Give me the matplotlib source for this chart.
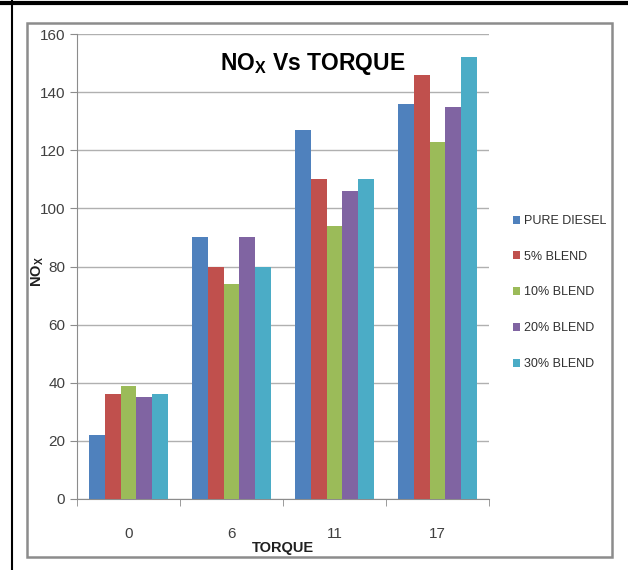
import matplotlib.pyplot as plt
import numpy as np
from matplotlib.patches import Rectangle
from matplotlib.lines import Line2D

# torque levels and NOx readings per fuel
torque = ['0', '6', '11', '17']
fuels = ['PURE DIESEL', '5% BLEND', '10% BLEND', '20% BLEND', '30% BLEND']
pure_diesel = [22, 90, 127, 136]
blend_5 = [36, 80, 110, 146]
blend_10 = [39, 74, 94, 123]
blend_20 = [35, 90, 106, 135]
blend_30 = [36, 80, 110, 152]
colors = ['#4F81BD', '#C0504D', '#9BBB59', '#8064A2', '#4BACC6']

plt.rcParams['font.family'] = ['Liberation Sans', 'DejaVu Sans']

fig = plt.figure(figsize=(6.28, 5.70), dpi=100)

# outer frame lines and inner grey chart border
fig.add_artist(Line2D([0, 1], [1 - 3 / 570, 1 - 3 / 570], color='black', lw=3,
                      transform=fig.transFigure))
fig.add_artist(Line2D([12 / 628, 12 / 628], [0, 1], color='black', lw=1.5,
                      transform=fig.transFigure))
fig.add_artist(Rectangle((27 / 628, 1 - 557 / 570), (612 - 27) / 628, (557 - 23) / 570,
                         fill=False, edgecolor='#8c8c8c', lw=1.8,
                         transform=fig.transFigure))

ax = fig.add_axes([77 / 628, 1 - 499 / 570, 412 / 628, 465 / 570])

series = [pure_diesel, blend_5, blend_10, blend_20, blend_30]
x = np.arange(len(torque))
width = 0.155
for i, (vals, name, c) in enumerate(zip(series, fuels, colors)):
    ax.bar(x + (i - 2) * width, vals, width, color=c, label=name, zorder=3)

ax.set_xlim(-0.5, len(torque) - 0.5)
ax.set_ylim(0, 160)
ax.set_yticks(range(0, 161, 20))
ax.set_xticks(x)
ax.set_xticklabels(torque)
ax.set_xticks(np.arange(-0.5, len(torque), 1), minor=True)
ax.tick_params(axis='x', which='major', length=0, pad=20, labelsize=11, colors='#404040')
ax.tick_params(axis='x', which='minor', length=5, color='#8c8c8c')
ax.tick_params(axis='y', length=5, color='#8c8c8c', labelsize=11, colors='#404040')
ax.grid(axis='y', color='#b0b0b0', lw=1, zorder=0)
for s in ['top', 'right']:
    ax.spines[s].set_visible(False)
for s in ['left', 'bottom']:
    ax.spines[s].set_color('#8c8c8c')

ax.set_xlabel('TORQUE', fontsize=10.5, fontweight='bold', labelpad=0, color='#202020')
fig.text(38 / 628, 1 - 272 / 570, 'NO$_\\mathregular{X}$', rotation=90,
         ha='center', va='center', fontsize=10.5, fontweight='bold', color='#202020')
ax.text(0.573, 0.935, 'NO$_\\mathregular{X}$ Vs TORQUE', transform=ax.transAxes,
        ha='center', va='center', fontsize=16.5, fontweight='bold')

ax.legend(loc='upper left', bbox_to_anchor=(1.03, 0.635), frameon=False,
          fontsize=9, handlelength=0.6, handleheight=0.6, handletextpad=0.3,
          labelspacing=1.9, labelcolor='#303030')

fig.savefig('out.png', dpi=100)
